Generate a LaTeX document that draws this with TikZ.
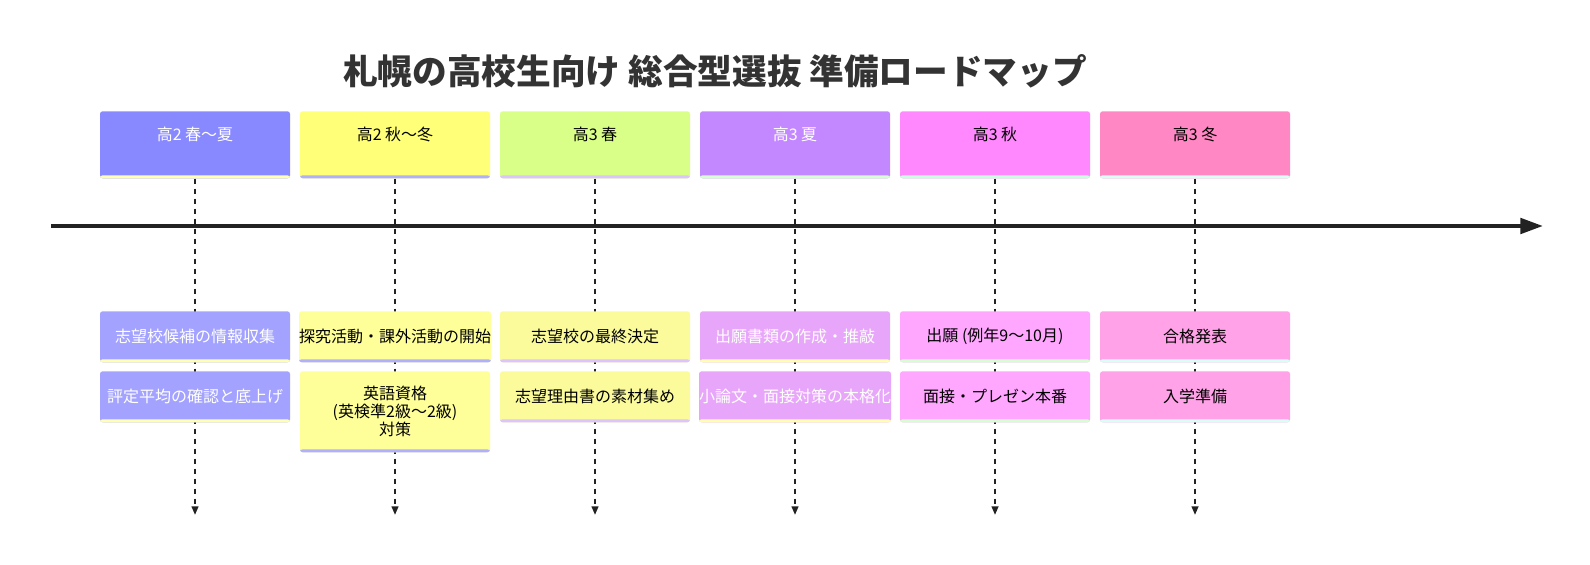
\documentclass[tikz,border=0pt]{standalone}
\usepackage{fontspec}
\setmainfont{Noto Sans CJK JP}
\usetikzlibrary{arrows.meta,backgrounds,positioning}
% section colours (header / event / bottom line)
\definecolor{hTwoSpringC}{HTML}{8888FF}
\definecolor{hTwoAutumnC}{HTML}{FFFF78}
\definecolor{hThreeSpringC}{HTML}{D9FF88}
\definecolor{hThreeSummerC}{HTML}{C388FF}
\definecolor{hThreeAutumnC}{HTML}{FF88FF}
\definecolor{hThreeWinterC}{HTML}{FF88C4}
\definecolor{evOneC}{HTML}{A3A3FF}
\definecolor{evTwoC}{HTML}{FFFF99}
\definecolor{evThreeC}{HTML}{FBFB9C}
\definecolor{evFourC}{HTML}{E8A6FA}
\definecolor{evFiveC}{HTML}{FFA6FF}
\definecolor{evSixC}{HTML}{FFA2E8}
\definecolor{lineYelC}{HTML}{FFFFB0}
\definecolor{lineBlueC}{HTML}{B0B0FF}
\definecolor{lineLavC}{HTML}{DCC4FF}
\definecolor{lineGreenC}{HTML}{D6FFD0}
\definecolor{lineMintC}{HTML}{C8FFDC}
\definecolor{lineCyanC}{HTML}{D8FFF4}
\definecolor{axisdark}{HTML}{222222}
\definecolor{titlegray}{HTML}{333333}

\begin{document}
\begin{tikzpicture}[x=0.75pt,y=-0.75pt,>=Latex,font=\fontsize{12}{13.5}\selectfont]
  \tikzset{
    box/.style 2 args={fill=#1,rounded corners=2pt,minimum width=142.5pt,
      inner sep=0pt,anchor=north,align=center,
      path picture={\fill[#2] (path picture bounding box.south west)
        rectangle ([yshift=2.25pt]path picture bounding box.south east);}},
    sechead/.style={text height=21.75pt,text depth=28.5pt},
    evbox/.style={minimum height=38.25pt},
    guide/.style={axisdark,line width=1.5pt,dash pattern=on 3.75pt off 3.75pt,
      -{Triangle[length=6.5pt,width=5pt]}}
  }
  \useasboundingbox (0,0) rectangle (1590,564);
  \node[titlegray,font=\fontsize{26}{30}\selectfont\bfseries] (title) at (715,71)
     {札幌の高校生向け 総合型選抜 準備ロードマップ};
  % periods
  \node[box={hTwoSpringC}{lineYelC},sechead,text=white] (hd1) at (195,111) {高2 春〜夏};
  \node[box={hTwoAutumnC}{lineBlueC},sechead] (hd2) at (395,111) {高2 秋〜冬};
  \node[box={hThreeSpringC}{lineLavC},sechead] (hd3) at (595,111) {高3 春};
  \node[box={hThreeSummerC}{lineGreenC},sechead,text=white] (hd4) at (795,111) {高3 夏};
  \node[box={hThreeAutumnC}{lineMintC},sechead] (hd5) at (995,111) {高3 秋};
  \node[box={hThreeWinterC}{lineCyanC},sechead] (hd6) at (1195,111) {高3 冬};
  % events
  \node[box={evOneC}{lineYelC},evbox,text=white] (ev1a) at (195,311) {志望校候補の情報収集};
  \node[box={evOneC}{lineYelC},evbox,text=white] (ev1b) at (195,371) {評定平均の確認と底上げ};
  \node[box={evTwoC}{lineBlueC},evbox] (ev2a) at (395,311) {探究活動・課外活動の開始};
  \node[box={evTwoC}{lineBlueC},minimum height=60.75pt] (ev2b) at (395,371)
     {英語資格\\(英検準2級〜2級)\\対策};
  \node[box={evThreeC}{lineLavC},evbox] (ev3a) at (595,311) {志望校の最終決定};
  \node[box={evThreeC}{lineLavC},evbox] (ev3b) at (595,371) {志望理由書の素材集め};
  \node[box={evFourC}{lineYelC},evbox,text=white] (ev4a) at (795,311) {出願書類の作成・推敲};
  \node[box={evFourC}{lineYelC},evbox,text=white] (ev4b) at (795,371) {小論文・面接対策の本格化};
  \node[box={evFiveC}{lineGreenC},evbox] (ev5a) at (995,311) {出願 (例年9〜10月)};
  \node[box={evFiveC}{lineGreenC},evbox] (ev5b) at (995,371) {面接・プレゼン本番};
  \node[box={evSixC}{lineCyanC},evbox] (ev6a) at (1195,311) {合格発表};
  \node[box={evSixC}{lineCyanC},evbox] (ev6b) at (1195,371) {入学準備};
  % time axis
  \coordinate (axisL) at (51,226);
  \coordinate (axisR) at (1543,226);
  \draw[axisdark,line width=3pt,-{Triangle[length=17pt,width=11.5pt]}] (axisL) -- (axisR);
  % dashed guides behind the boxes
  \begin{pgfonlayer}{background}
    \foreach \i in {1,...,6}{
      \coordinate (end\i) at (hd\i.south |- 0,515);
      \draw[guide] (hd\i) -- (end\i);
    }
  \end{pgfonlayer}
\end{tikzpicture}
\end{document}
